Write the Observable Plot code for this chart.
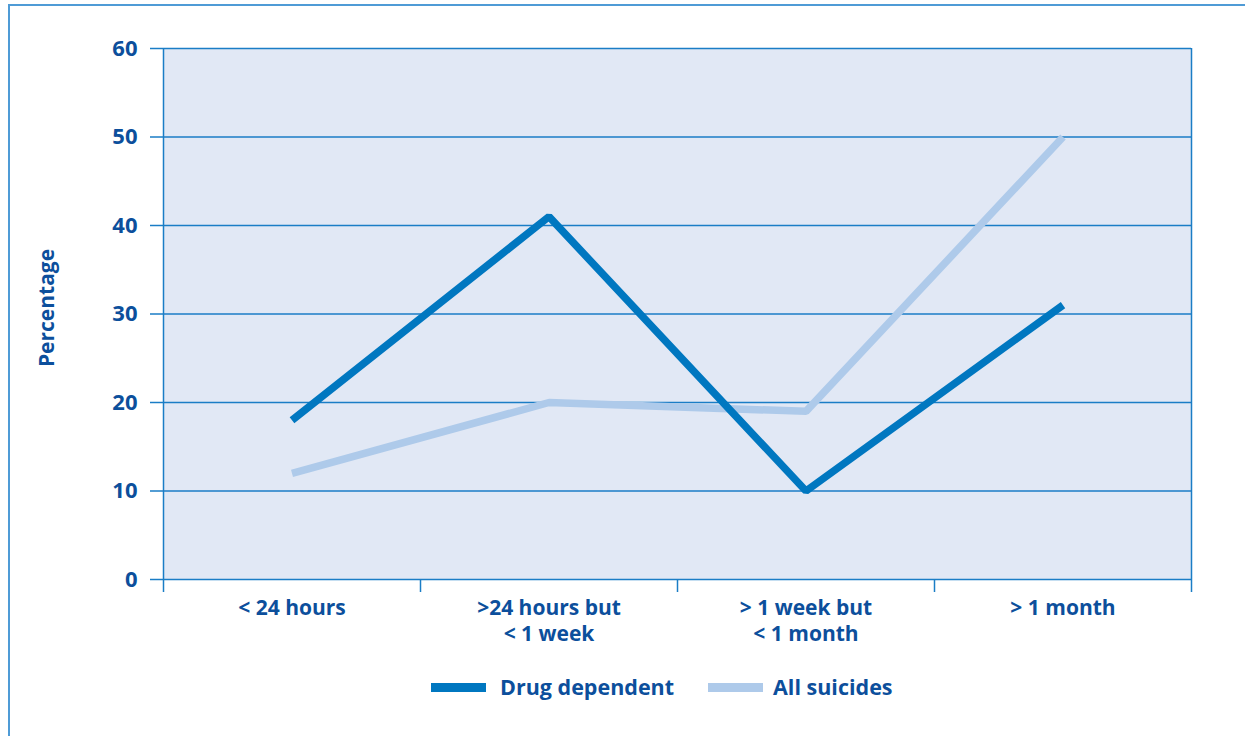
<!DOCTYPE html>
<html>
<head>
<meta charset="utf-8">
<script src="https://cdn.jsdelivr.net/npm/d3@7"></script>
<script src="https://cdn.jsdelivr.net/npm/@observablehq/plot@0.6"></script>
<style>
  html, body { margin: 0; padding: 0; background: #fff; }
  body { width: 1245px; height: 736px; position: relative; overflow: hidden;
         font-family: "Open Sans", "Noto Sans", sans-serif; }
  #border { position: absolute; left: 8px; top: 4px; width: 1300px; height: 800px;
            border-left: 2px solid #4f9bd6; border-top: 2px solid #4f9bd6; }
  #chart { position: absolute; left: 0; top: 0; }
  .legend { position: absolute; top: 672px; left: 0; width: 1245px; height: 30px; }
  .sw { position: absolute; top: 11px; height: 9px; }
  .lab { position: absolute; top: 0; font-size: 21.5px; font-weight: 700; color: #0c4f9c;
         line-height: 30px; white-space: nowrap; }
</style>
</head>
<body>
<div id="border"></div>
<div id="chart"></div>
<div class="legend" id="legend"></div>
<script>
// Time since last contact with services, by group
const categories = ["< 24 hours", ">24 hours but\n< 1 week", "> 1 week but\n< 1 month", "> 1 month"];
const drugDependent = [18, 41, 10, 31];
const allSuicides = [12, 20, 19, 50];
const yTicks = [0, 10, 20, 30, 40, 50, 60];
const seriesNames = ["Drug dependent", "All suicides"];

const textBlue = "#0c4f9c";
const lineBlue = "#1a7dc6";
const darkSeries = "#0077c0";
const lightSeries = "#aecaea";

// Each category sits at the middle of its slot; slot edges get separator ticks
const rows = (values) => values.map((v, i) => ({pos: i + 0.5, value: v}));
const slotEdges = d3.range(categories.length + 1);

const chart = Plot.plot({
  width: 1245,
  height: 650,
  marginLeft: 163,
  marginRight: 54,
  marginTop: 48,
  marginBottom: 71,
  style: {fontFamily: "'Open Sans', 'Noto Sans', sans-serif", background: "transparent"},
  x: {type: "linear", domain: [0, categories.length], axis: null},
  y: {domain: [0, 60], axis: null},
  marks: [
    Plot.frame({fill: "#e1e8f5", stroke: "none"}),
    Plot.ruleY(yTicks, {stroke: lineBlue, strokeWidth: 1.5}),
    Plot.ruleX([0, categories.length], {stroke: lineBlue, strokeWidth: 1.5}),
    Plot.axisY({ticks: yTicks, tickSize: 13, tickPadding: 13, stroke: lineBlue, strokeWidth: 1.5,
                fill: textBlue, fontSize: 22, fontWeight: 700, label: null}),
    Plot.axisX({ticks: slotEdges, tickSize: 13, stroke: lineBlue, strokeWidth: 1.5,
                tickFormat: () => "", label: null}),
    Plot.text(categories, {x: (d, i) => i + 0.5, y: 0, text: d => d, lineAnchor: "top", dy: 18,
                           lineHeight: 1.2, fontSize: 21, fontWeight: 700, fill: textBlue}),
    Plot.text(["Percentage"], {frameAnchor: "left", textAnchor: "middle", rotate: -90, dx: -116, dy: -6,
                               fontSize: 21, fontWeight: 700, fill: textBlue}),
    Plot.line(rows(allSuicides), {x: "pos", y: "value", stroke: lightSeries, strokeWidth: 7.5,
                                  strokeLinecap: "butt", strokeLinejoin: "miter", curve: "linear"}),
    Plot.line(rows(drugDependent), {x: "pos", y: "value", stroke: darkSeries, strokeWidth: 7.5,
                                    strokeLinecap: "butt", strokeLinejoin: "miter", curve: "linear"})
  ]
});
document.getElementById("chart").append(chart);

// Legend below the chart
const legend = document.getElementById("legend");
const legendItems = [
  {name: seriesNames[0], color: darkSeries, sw: 431, tx: 500},
  {name: seriesNames[1], color: lightSeries, sw: 708, tx: 773}
];
for (const it of legendItems) {
  const s = document.createElement("div");
  s.className = "sw";
  s.style.left = it.sw + "px";
  s.style.width = "55px";
  s.style.background = it.color;
  legend.append(s);
  const t = document.createElement("div");
  t.className = "lab";
  t.style.left = it.tx + "px";
  t.textContent = it.name;
  legend.append(t);
}
</script>
</body>
</html>
